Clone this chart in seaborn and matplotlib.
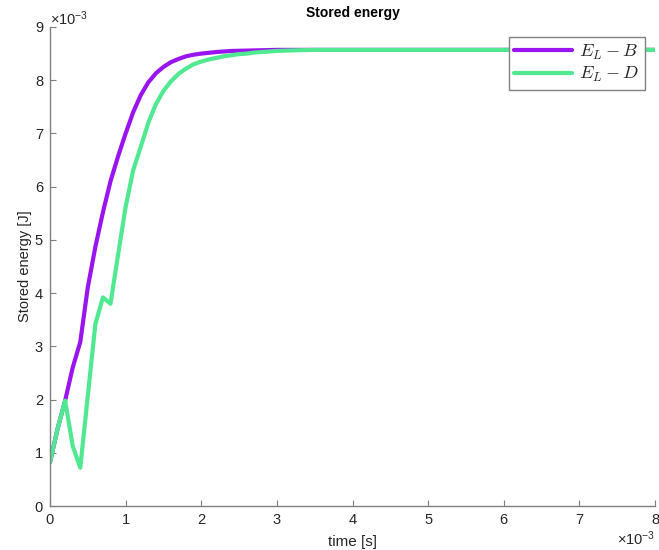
"""
Stored energy plot - recreated in the MATLAB look with seaborn.
"""

import matplotlib
matplotlib.use("Agg")
import matplotlib.pyplot as plt
import pandas as pd
import seaborn as sns

# time in units of 1e-3 s, energy in units of 1e-3 J
time_b = [0.0, 0.1, 0.2, 0.3, 0.4, 0.5, 0.6, 0.7, 0.8, 0.9, 1.0, 1.1, 1.2, 1.3, 1.4,
          1.5, 1.6, 1.7, 1.8, 1.9, 2.0, 2.2, 2.4, 2.7, 3.0, 8.0]
energy_b = [0.82, 1.45, 1.98, 2.60, 3.08, 4.11, 4.87, 5.52, 6.10, 6.57, 7.00, 7.40, 7.72, 7.96, 8.13,
            8.25, 8.34, 8.40, 8.45, 8.48, 8.50, 8.53, 8.55, 8.56, 8.57, 8.57]

time_d = [0.0, 0.1, 0.2, 0.3, 0.4, 0.5, 0.6, 0.7, 0.8, 0.9, 1.0, 1.1, 1.2, 1.3, 1.4,
          1.5, 1.6, 1.7, 1.8, 1.9, 2.0, 2.1, 2.2, 2.3, 2.4, 2.5, 2.6, 2.7, 2.8, 2.9,
          3.0, 3.2, 3.5, 8.0]
energy_d = [0.82, 1.45, 1.98, 1.13, 0.72, 2.07, 3.42, 3.92, 3.80, 4.72, 5.62, 6.31, 6.75, 7.20, 7.55,
            7.80, 7.98, 8.12, 8.22, 8.30, 8.35, 8.39, 8.42, 8.45, 8.47, 8.49, 8.50, 8.52, 8.53, 8.54,
            8.55, 8.56, 8.57, 8.57]

labels = ["$E_L - B$", "$E_L - D$"]
colors = ["#9A14F0", "#50E890"]

x_ticks = [0, 1, 2, 3, 4, 5, 6, 7, 8]
y_ticks = [0, 1, 2, 3, 4, 5, 6, 7, 8, 9]

sns.set_style("white")
plt.rcParams["font.family"] = ["Liberation Sans", "DejaVu Sans"]
plt.rcParams["mathtext.fontset"] = "cm"
plt.rcParams["mathtext.rm"] = "Liberation Sans"
plt.rcParams["mathtext.it"] = "Liberation Sans"

df = pd.concat([
    pd.DataFrame({"time": time_b, "energy": energy_b, "series": labels[0]}),
    pd.DataFrame({"time": time_d, "energy": energy_d, "series": labels[1]}),
])

fig = plt.figure(figsize=(6.59, 5.5), dpi=100)
ax = fig.add_axes([50 / 659, 44 / 550, 605 / 659, 479 / 550])

sns.lineplot(data=df, x="time", y="energy", hue="series", hue_order=labels,
             palette=colors, linewidth=3, estimator=None, ax=ax)

ax.set_xlim(0, 8)
ax.set_ylim(0, 9)
ax.set_xticks(x_ticks)
ax.set_yticks(y_ticks)

axis_color = "#262626"
for side in ["top", "right"]:
    ax.spines[side].set_visible(False)
for side in ["left", "bottom"]:
    ax.spines[side].set_color("#808080")
    ax.spines[side].set_linewidth(1.0)
ax.tick_params(direction="in", length=4, width=0.8, color="#808080",
               labelsize=10.5, labelcolor=axis_color, pad=5, left=True, bottom=True)

ax.set_xlabel("time [s]", fontsize=11, color=axis_color, labelpad=5.5)
ax.set_ylabel("Stored energy [J]", fontsize=10.5, color=axis_color, labelpad=2)
ax.set_title("Stored energy", fontsize=10, fontweight="bold", color="black", pad=7)

# exponent markers like MATLAB
ax.text(0.0, 1.004, r"$\times10^{-3}$", transform=ax.transAxes, ha="left", va="baseline",
        fontsize=10.5, color=axis_color, math_fontfamily="custom")
ax.text(1.0, -0.081, r"$\times10^{-3}$", transform=ax.transAxes, ha="right", va="baseline",
        fontsize=10.5, color=axis_color, math_fontfamily="custom")

leg = ax.legend(loc="upper right", bbox_to_anchor=(0.983, 0.979), borderaxespad=0,
                fontsize=13, frameon=True, fancybox=False, framealpha=1,
                handlelength=3.2, handletextpad=0.4, borderpad=0.3, labelspacing=0.2)
leg.get_frame().set_edgecolor("#808080")
leg.get_frame().set_linewidth(1.0)

plt.savefig("out.png", dpi=100)
plt.close()
